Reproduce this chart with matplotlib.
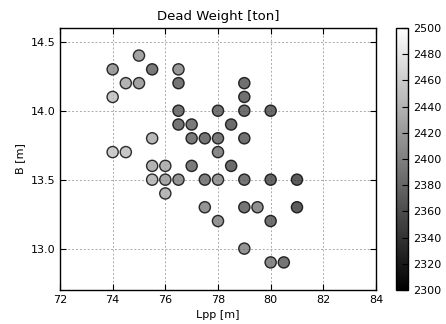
import matplotlib
matplotlib.use("Agg")
import matplotlib.pyplot as plt

lpp = [75, 74, 75.5, 76.5, 74.5, 75, 76.5, 79, 74, 79,
       76.5, 78, 79, 80, 76.5, 77, 78.5, 75.5, 77, 77.5,
       78, 79, 74, 74.5, 78, 75.5, 76, 77, 78.5, 75.5,
       76, 76.5, 77.5, 78, 79, 80, 81, 76, 77.5, 79,
       79.5, 81, 78, 80, 79, 80, 80.5]
breadth = [14.4, 14.3, 14.3, 14.3, 14.2, 14.2, 14.2, 14.2, 14.1, 14.1,
           14.0, 14.0, 14.0, 14.0, 13.9, 13.9, 13.9, 13.8, 13.8, 13.8,
           13.8, 13.8, 13.7, 13.7, 13.7, 13.6, 13.6, 13.6, 13.6, 13.5,
           13.5, 13.5, 13.5, 13.5, 13.5, 13.5, 13.5, 13.4, 13.3, 13.3,
           13.3, 13.3, 13.2, 13.2, 13.0, 12.9, 12.9]
dwt = [2410, 2405, 2370, 2400, 2425, 2410, 2365, 2360, 2445, 2360,
       2365, 2365, 2360, 2355, 2365, 2370, 2355, 2430, 2370, 2365,
       2370, 2360, 2450, 2445, 2385, 2425, 2425, 2370, 2355, 2435,
       2415, 2395, 2375, 2400, 2365, 2350, 2340, 2430, 2395, 2365,
       2390, 2340, 2395, 2360, 2395, 2385, 2365]

plt.rcParams['font.family'] = 'DejaVu Sans'
plt.rcParams['font.size'] = 8

fig = plt.figure(figsize=(4.46, 3.24), dpi=100)
ax = fig.add_axes([0.1345, 0.105, 0.7085, 0.8086])
cax = fig.add_axes([0.888, 0.105, 0.027, 0.8086])

sc = ax.scatter(lpp, breadth, c=dwt, cmap='gray', vmin=2300, vmax=2500,
                s=65, edgecolors='black', linewidths=1.0, alpha=0.8, zorder=3)
ax.set_xlim(72, 84)
ax.set_ylim(12.7, 14.6)
ax.set_xticks([72, 74, 76, 78, 80, 82, 84])
ax.set_yticks([13.0, 13.5, 14.0, 14.5])
ax.grid(True, linestyle=(0, (2, 2)), color='#aaaaaa', linewidth=0.7)
ax.tick_params(direction='in', top=True, right=True, length=4, labelsize=8)
for sp in ax.spines.values():
    sp.set_linewidth(1.0)
ax.set_xlabel('Lpp [m]', fontsize=8)
ax.set_ylabel('B [m]', fontsize=8)
ax.set_title('Dead Weight [ton]', fontsize=9.5)

cb = fig.colorbar(sc, cax=cax, ticks=range(2300, 2501, 20))
cb.solids.set_alpha(1)
cb.outline.set_linewidth(1.0)
cb.ax.tick_params(direction='in', length=4, labelsize=8)

fig.savefig('out.png', dpi=100)
